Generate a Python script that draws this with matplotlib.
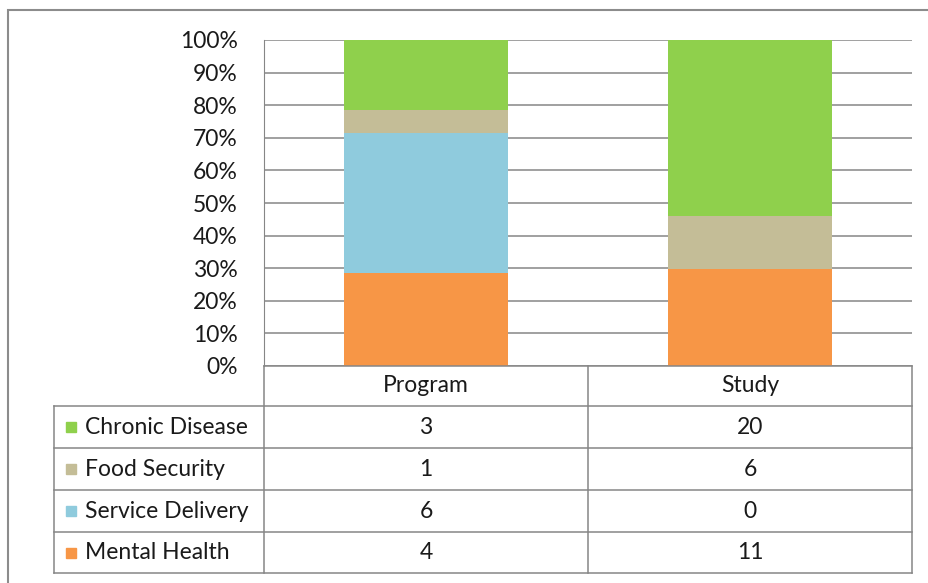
import numpy as np
import matplotlib
matplotlib.use('Agg')
import matplotlib.pyplot as plt
from matplotlib.patches import Rectangle
from matplotlib.lines import Line2D

plt.rcParams['font.family'] = ['Lato', 'DejaVu Sans']
plt.rcParams['text.color'] = '#1a1a1a'
plt.rcParams['ytick.color'] = '#1a1a1a'

groups = ['Program', 'Study']
series = ['Mental Health', 'Service Delivery', 'Food Security', 'Chronic Disease']
counts = {
    'Mental Health': [4, 11],
    'Service Delivery': [6, 0],
    'Food Security': [1, 6],
    'Chronic Disease': [3, 20],
}
colors = {
    'Mental Health': '#F79646',
    'Service Delivery': '#8FCBDD',
    'Food Security': '#C4BD97',
    'Chronic Disease': '#8FD04C',
}
fs = 16.5

W, H = 929, 583
fig = plt.figure(figsize=(W / 100, H / 100), dpi=100)

def fx(px):
    return px / W

def fy(py):
    return 1 - py / H

# outer frame
fig.patches.append(Rectangle((fx(8), fy(600)), fx(940), fy(10) - fy(600),
                             transform=fig.transFigure, fill=False,
                             edgecolor='#8c8c8c', linewidth=1.5))

ax_l, ax_r, ax_t, ax_b = 264, 912, 40, 366
ax = fig.add_axes([fx(ax_l), fy(ax_b), fx(ax_r - ax_l), fy(ax_t) - fy(ax_b)])

totals = np.sum([counts[s] for s in series], axis=0)
x = np.arange(len(groups))
bottom = np.zeros(len(groups))
for s in series:
    share = np.array(counts[s]) / totals * 100
    ax.bar(x, share, width=0.505, bottom=bottom, color=colors[s], zorder=3)
    bottom += share

ax.set_xlim(-0.5, len(groups) - 0.5)
ax.set_ylim(0, 100)
ax.set_yticks(np.arange(0, 101, 10))
ax.set_yticklabels(['%d%%' % v for v in range(0, 101, 10)], fontsize=fs)
ax.set_xticks([])
ax.tick_params(axis='y', length=0, pad=19)
ax.grid(axis='y', color='#868686', linewidth=1.1, zorder=0)
for side in ['top', 'right', 'bottom']:
    ax.spines[side].set_visible(False)
ax.spines['left'].set_color('#868686')

# data table below the bars
line_kw = dict(transform=fig.transFigure, color='#868686', linewidth=1.1)
row_y = [366, 406, 448, 490, 532, 573]
col_x = [54, 264, 588, 912]

def hline(y, x0, x1):
    fig.lines.append(Line2D([fx(x0), fx(x1)], [fy(y), fy(y)], **line_kw))

def vline(x0, y0, y1):
    fig.lines.append(Line2D([fx(x0), fx(x0)], [fy(y0), fy(y1)], **line_kw))

hline(row_y[0], col_x[1], col_x[3])
for y in row_y[1:]:
    hline(y, col_x[0], col_x[3])
vline(col_x[0], row_y[1], row_y[-1])
for cx in col_x[1:]:
    vline(cx, row_y[0], row_y[-1])

for j, g in enumerate(groups):
    cx = (col_x[j + 1] + col_x[j + 2]) / 2
    cy = (row_y[0] + row_y[1]) / 2
    fig.text(fx(cx), fy(cy), g, ha='center', va='center', fontsize=fs)

for i, s in enumerate(series[::-1]):
    cy = (row_y[i + 1] + row_y[i + 2]) / 2
    fig.patches.append(Rectangle((fx(66), fy(cy + 5)), fx(10), fy(cy - 5) - fy(cy + 5),
                                 transform=fig.transFigure, color=colors[s]))
    fig.text(fx(85), fy(cy), s, ha='left', va='center', fontsize=fs)
    for j in range(len(groups)):
        cx = (col_x[j + 1] + col_x[j + 2]) / 2
        fig.text(fx(cx), fy(cy), str(counts[s][j]), ha='center', va='center', fontsize=fs)

fig.savefig('out.png', dpi=100)
